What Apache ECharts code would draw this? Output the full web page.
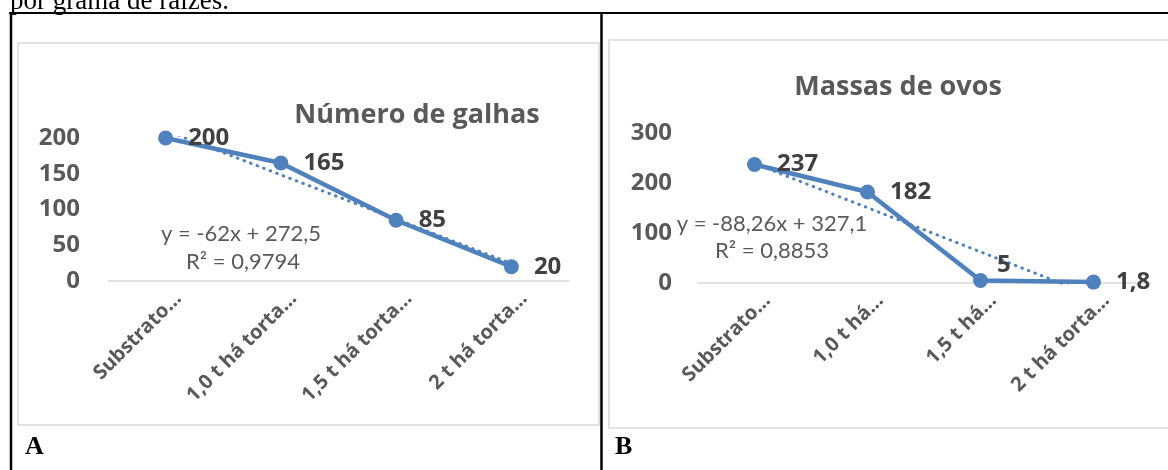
<!DOCTYPE html>
<html><head><meta charset="utf-8">
<script src="https://cdn.jsdelivr.net/npm/echarts@6/dist/echarts.min.js"></script>
<style>html,body{margin:0;padding:0;background:#fff}#c{width:1168px;height:470px}</style>
</head><body><div id="c"></div>
<script>
// ---- data ----
const categoriesA = ['Substrato…', '1,0 t há torta…', '1,5 t há torta…', '2 t há torta…'];
const valuesA = [200, 165, 85, 20];
const trendA = [210.5, 148.5, 86.5, 24.5];      // y = -62x + 272,5 at x = 1..4
const yTicksA = { min: 0, max: 200, interval: 50 };

const categoriesB = ['Substrato…', '1,0 t há…', '1,5 t há…', '2 t há torta…'];
const valuesB = [237, 182, 5, 1.8];
const trendB = [238.84, 150.58, 62.32, -25.94]; // y = -88,26x + 327,1 at x = 1..4
const yTicksB = { min: 0, max: 300, interval: 100 };

const titleA = 'Número de galhas';
const titleB = 'Massas de ovos';
const eqA = ['y = -62x + 272,5', 'R² = 0,9794'];
const eqB = ['y = -88,26x + 327,1', 'R² = 0,8853'];

// ---- styling ----
const BLUE = '#4f81bd';
const BOLD = '"Open Sans"';
const REG = 'Lato';
const fmt = v => String(v).replace('.', ',');

function xAxis(idx, cats) {
  return {
    gridIndex: idx, type: 'category', data: cats, boundaryGap: true,
    axisLine: { lineStyle: { color: '#d9d9d9', width: 1.5 } },
    axisTick: { show: false },
    axisLabel: { rotate: 45, interval: 0, margin: 13, color: '#595959', fontFamily: BOLD, fontWeight: 'bold', fontSize: 20,
      verticalAlign: 'top', padding: [0, -8, 0, 0] }
  };
}
function yAxis(idx, t, margin) {
  return {
    gridIndex: idx, type: 'value', min: t.min, max: t.max, interval: t.interval,
    axisLine: { show: false }, axisTick: { show: false }, splitLine: { show: false },
    axisLabel: { margin: margin, color: '#595959', fontFamily: BOLD, fontWeight: 'bold', fontSize: 24 }
  };
}
function mainSeries(idx, vals, special) {
  return {
    type: 'line', xAxisIndex: idx, yAxisIndex: idx, clip: false, z: 3,
    data: vals.map((v, i) => special && special[i] ? { value: v, label: special[i] } : v),
    symbol: 'circle', symbolSize: 15,
    itemStyle: { color: BLUE },
    lineStyle: { color: BLUE, width: 4.5 },
    label: { show: true, position: 'right', distance: 15, formatter: p => fmt(p.value),
      color: '#404040', fontFamily: BOLD, fontWeight: 'bold', fontSize: 24 }
  };
}
function trendSeries(idx, vals) {
  return {
    type: 'line', xAxisIndex: idx, yAxisIndex: idx, clip: true, z: 2,
    data: vals, symbol: 'none', silent: true,
    lineStyle: { color: BLUE, width: 3, type: [0.5, 6.5], cap: 'round' }
  };
}
function txt(x, y, s, font, fill, align) {
  return { type: 'text', x: x, y: y, silent: true,
    style: { text: s, font: font, fill: fill, align: align || 'center', verticalAlign: 'middle' } };
}
function line(x1, y1, x2, y2, color, w) {
  return { type: 'line', silent: true, shape: { x1, y1, x2, y2 }, style: { stroke: color, lineWidth: w } };
}
function rect(x, y, w, h) {
  return { type: 'rect', silent: true, shape: { x, y, width: w, height: h }, style: { fill: 'none', stroke: '#d9d9d9', lineWidth: 1.5 } };
}

const chart = echarts.init(document.getElementById('c'), null, { renderer: 'canvas' });
chart.setOption({
  animation: false,
  backgroundColor: '#fff',
  title: [
    { text: titleA, left: 412, top: 110, textAlign: 'center', textVerticalAlign: 'middle',
      textStyle: { color: '#595959', fontFamily: BOLD, fontWeight: 'bold', fontSize: 27 } },
    { text: titleB, left: 893, top: 82, textAlign: 'center', textVerticalAlign: 'middle',
      textStyle: { color: '#595959', fontFamily: BOLD, fontWeight: 'bold', fontSize: 27 } }
  ],
  grid: [
    { left: 108, top: 138, width: 461, height: 143 },
    { left: 698, top: 133, width: 452, height: 150 }
  ],
  xAxis: [xAxis(0, categoriesA), xAxis(1, categoriesB)],
  yAxis: [yAxis(0, yTicksA, 28), yAxis(1, yTicksB, 26)],
  series: [
    trendSeries(0, trendA),
    mainSeries(0, valuesA),
    trendSeries(1, trendB),
    mainSeries(1, valuesB, [null, null, { position: 'right', distance: 2, offset: [7, -15] }, null])
  ],
  graphic: [
    // chart panels
    rect(18, 43, 581, 382),
    rect(609, 40, 570, 388),
    // top text
    txt(10, 2, 'por grama de raízes.', '27px "Liberation Serif"', '#000', 'left'),
    // document table borders
    line(9, 13, 1168, 13, '#000', 2),
    line(11, 12, 11, 470, '#000', 2.5),
    line(601.5, 12, 601.5, 470, '#000', 2.5),
    // equations
    txt(241, 234, eqA[0], '22px Lato', '#595959'),
    txt(243, 262, eqA[1], '22px Lato', '#595959'),
    txt(772, 224, eqB[0], '22px Lato', '#595959'),
    txt(772, 251, eqB[1], '22px Lato', '#595959'),
    // panel letters
    txt(25, 447, 'A', 'bold 26px "Liberation Serif"', '#000', 'left'),
    txt(615, 447, 'B', 'bold 26px "Liberation Serif"', '#000', 'left')
  ]
});
</script></body></html>
